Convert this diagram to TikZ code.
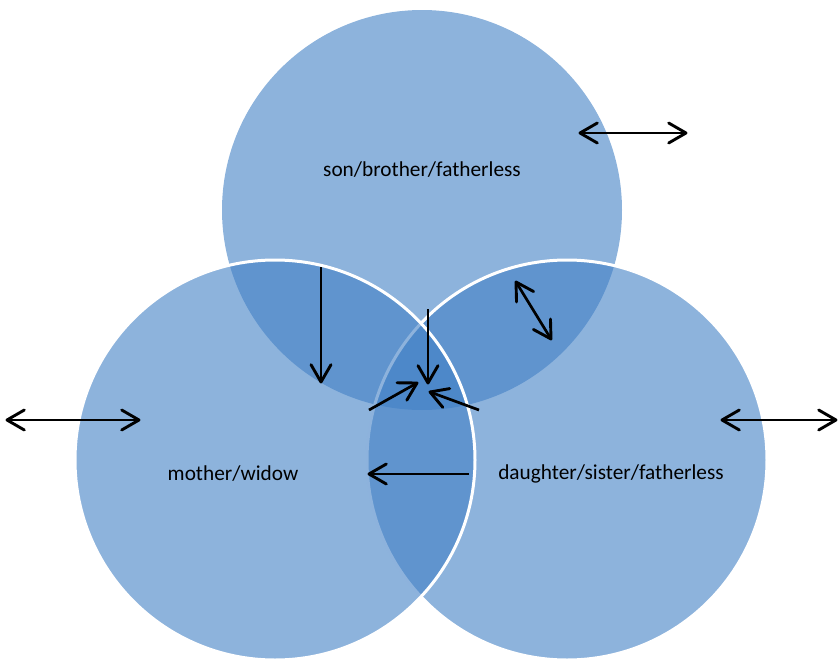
\documentclass[tikz,border=0pt]{standalone}
\usepackage{fontspec}
\setmainfont{Carlito}
\usetikzlibrary{calc}
\definecolor{vennblue}{RGB}{65,128,197}
\newcommand\barbhead[3]{\draw[#3,line cap=round,line join=round] ($(#1)!20pt!30:(#2)$) -- (#1) -- ($(#1)!20pt!-30:(#2)$);}
\begin{document}
\begin{tikzpicture}[x=1pt,y=-1pt,
  venn/.style={circle,inner sep=0pt,outer sep=0pt,minimum size=400pt,fill=vennblue,fill opacity=0.6},
  vennedge/.style={draw=white,line width=3pt},
  lbl/.style={font=\fontsize{21.3}{25}\selectfont,text=black,inner sep=0pt},
  thickln/.style={line width=2.7pt},
  thinln/.style={line width=1.9pt},
  headln/.style={line width=2.9pt}
]
\useasboundingbox (0,0) rectangle (839,659);
% circles
\node[venn] (top) at (422,210) {};
\node[venn,vennedge] (right) at (567,460) {};
\node[venn,vennedge] (left) at (275,460) {};
% labels
\node[lbl] (tl) at (422,170) {son/brother/fatherless};
\node[lbl] (ll) at (233,474) {mother/widow};
\node[lbl] (rl) at (611,474) {daughter/sister/fatherless};
% arrow endpoints
\coordinate (a1) at (580,133); \coordinate (b1) at (686,133);
\coordinate (a2) at (7,420);   \coordinate (b2) at (139,420);
\coordinate (a3) at (722,420); \coordinate (b3) at (836,420);
\coordinate (a4) at (321,267); \coordinate (b4) at (321,382);
\coordinate (a5) at (428,309); \coordinate (b5) at (428,383);
\coordinate (a6) at (369,410); \coordinate (b6) at (417,383);
\coordinate (a7) at (479,410); \coordinate (b7) at (430,392);
\coordinate (a8) at (516,282); \coordinate (b8) at (551,339);
\coordinate (a9) at (469,474); \coordinate (b9) at (369,474);
% double arrows
\draw[thickln] (a1) -- (b1); \barbhead{a1}{b1}{headln} \barbhead{b1}{a1}{headln}
\draw[thickln] (a2) -- (b2); \barbhead{a2}{b2}{headln} \barbhead{b2}{a2}{headln}
\draw[thickln] (a3) -- (b3); \barbhead{a3}{b3}{headln} \barbhead{b3}{a3}{headln}
\draw[thickln] (a8) -- (b8); \barbhead{a8}{b8}{headln} \barbhead{b8}{a8}{headln}
% single arrows
\draw[thinln] (a4) -- (b4); \barbhead{b4}{a4}{headln}
\draw[thinln] (a5) -- (b5); \barbhead{b5}{a5}{headln}
\draw[thickln] (a6) -- (b6); \barbhead{b6}{a6}{headln}
\draw[thickln] (a7) -- (b7); \barbhead{b7}{a7}{headln}
\draw[thinln] (a9) -- (b9); \barbhead{b9}{a9}{headln}
\end{tikzpicture}
\end{document}
